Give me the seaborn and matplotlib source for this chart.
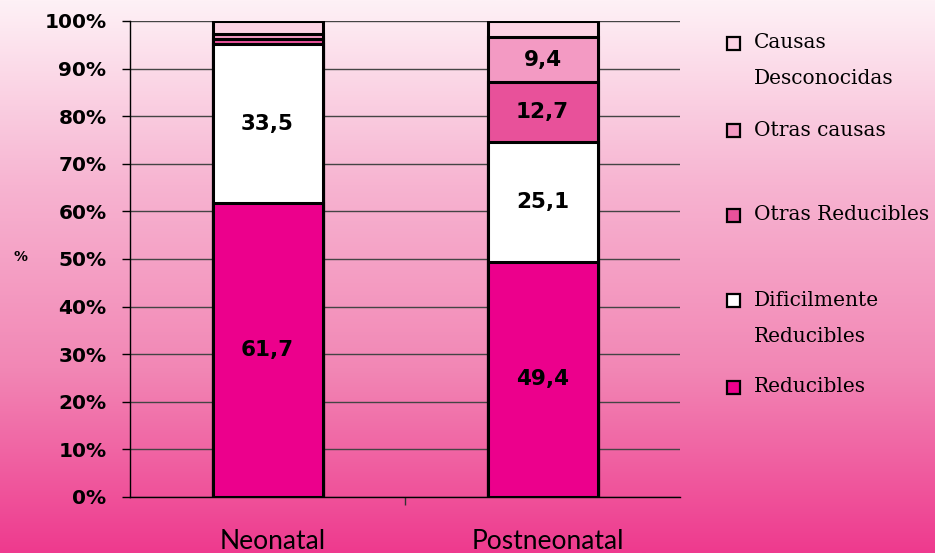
import numpy as np
import pandas as pd
import matplotlib
matplotlib.use("Agg")
import matplotlib.pyplot as plt
from matplotlib.patches import Rectangle
from matplotlib.colors import LinearSegmentedColormap
import seaborn as sns

categories = ["Neonatal", "Postneonatal"]
series = ["Reducibles", "Dificilmente\nReducibles", "Otras Reducibles", "Otras causas", "Causas\nDesconocidas"]
reducibles = [61.7, 49.4]
dificil = [33.5, 25.1]
otras_red = [1.0, 12.7]
otras_causas = [1.0, 9.4]
desconocidas = [2.8, 3.4]
colors = ["#EC008C", "#FFFFFF", "#E8519A", "#F39AC3", "#FCD3E4"]
label_series = [0, 1, 2, 3]
ticks = [0, 10, 20, 30, 40, 50, 60, 70, 80, 90, 100]

sns.set_style("white")
plt.rcParams["text.color"] = "black"
plt.rcParams["xtick.color"] = "black"
plt.rcParams["ytick.color"] = "black"
fig = plt.figure(figsize=(9.35, 5.53), dpi=100)

# background gradient
bg = fig.add_axes([0, 0, 1, 1], zorder=-10)
cmap = LinearSegmentedColormap.from_list("bgp", ["#FEF1F6", "#F7B4D1", "#F287B5", "#EE3A8E"])
grad = np.linspace(0, 1, 256).reshape(-1, 1)
bg.imshow(grad, aspect="auto", cmap=cmap, extent=[0, 1, 0, 1], origin="upper")
bg.axis("off")

ax = fig.add_axes([130/935, 1-497/553, 550/935, (497-21)/553])
ax.patch.set_alpha(0)

values = [reducibles, dificil, otras_red, otras_causas, desconocidas]
cum = np.cumsum(np.array(values), axis=0)
for i in range(len(values) - 1, -1, -1):
    df = pd.DataFrame({"cat": categories, "val": cum[i]})
    sns.barplot(data=df, x="cat", y="val", color=colors[i], saturation=1,
                edgecolor="black", linewidth=2.2, width=0.4, ax=ax, zorder=3)

for j in range(len(categories)):
    for i in label_series:
        v = values[i][j]
        if v < 5:
            continue
        mid = cum[i][j] - v / 2
        ax.text(j, mid, f"{v:.1f}".replace(".", ","), ha="center", va="center",
                fontsize=15.5, fontweight="bold", color="black", zorder=5,
                family="DejaVu Sans")

ax.set_xlim(-0.5, 1.5)
ax.set_ylim(0, 100)
ax.set_yticks(ticks)
ax.set_yticklabels([f"{t}%" for t in ticks], fontsize=14.5, fontweight="bold",
                   family="DejaVu Sans", color="black")
ax.yaxis.grid(True, color="#444444", linewidth=1, zorder=0)
ax.set_axisbelow(True)
ax.tick_params(axis="y", length=6, width=1, color="black", left=True, pad=11)
ax.set_xticks([0.5], minor=False)
ax.set_xticklabels([""])
ax.tick_params(axis="x", length=6, width=1, color="#333333", bottom=True)
for j, c in enumerate(categories):
    ax.text(j + 0.02, -6.8, c, ha="center", va="top", fontsize=19, family="Lato",
            fontweight="normal", color="black")
for s in ["top", "right"]:
    ax.spines[s].set_visible(False)
for s in ["left", "bottom"]:
    ax.spines[s].set_color("black")
    ax.spines[s].set_linewidth(1)
ax.set_xlabel("")
ax.set_ylabel("")
fig.text(20/935, 1-257/553, "%", fontsize=10, fontweight="bold", ha="center", va="center",
         color="black")

# legend
leg_items = [(4, 43, 78), (3, 130, None), (2, 215, None), (1, 300, 337), (0, 387, None)]
for idx, ypx, y2 in leg_items:
    fig.patches.append(Rectangle((727/935, 1-(ypx+7)/553), 13/935, 13/553,
                                 transform=fig.transFigure, facecolor=colors[idx],
                                 edgecolor="black", linewidth=1.6))
    lines = series[idx].split("\n")
    ys = [ypx] if y2 is None else [ypx, y2]
    for line, yy in zip(lines, ys):
        fig.text(754/935, 1-yy/553, line, fontsize=14.5, family="DejaVu Serif",
                 ha="left", va="center", color="black")

fig.savefig("out.png", dpi=100)
